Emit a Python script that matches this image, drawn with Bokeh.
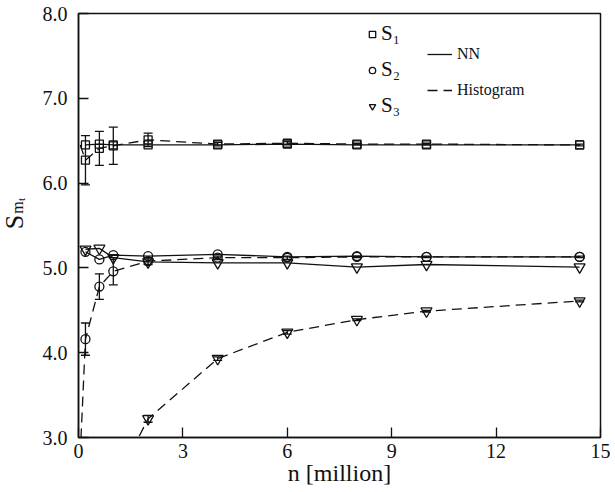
import math
from bokeh.plotting import figure
from bokeh.layouts import row
from bokeh.models import (Range1d, FixedTicker, PrintfTickFormatter, ColumnDataSource,
                          Whisker, TeeHead, Legend, LegendItem, Label)
from bokeh.embed import file_html
from bokeh.resources import INLINE

# ---------------- data ----------------
n = [0.2, 0.6, 1.0, 2.0, 4.0, 6.0, 8.0, 10.0, 14.4]

s1_nn = [6.45, 6.46, 6.45, 6.45, 6.45, 6.46, 6.45, 6.45, 6.45]
s1_hist = [6.27, 6.41, 6.44, 6.51, 6.46, 6.47, 6.46, 6.46, 6.45]
s1_err = [0.29, 0.20, 0.22, 0.08, 0.02, 0.02, 0.01, 0.01, 0.01]

s2_nn = [5.19, 5.10, 5.15, 5.14, 5.16, 5.13, 5.14, 5.13, 5.13]
s2_hist = [4.16, 4.78, 4.96, 5.08, 5.12, 5.12, 5.13, 5.13, 5.13]
s2_err = [0.19, 0.15, 0.16, 0.04, 0.02, 0.02, 0.01, 0.01, 0.01]

s3_nn = [5.22, 5.23, 5.12, 5.07, 5.06, 5.06, 5.01, 5.04, 5.01]
s3_hist = [1.20, 2.00, 2.42, 3.22, 3.93, 4.24, 4.39, 4.49, 4.61]
s3_err = [0.30, 0.20, 0.15, 0.04, 0.02, 0.02, 0.01, 0.01, 0.01]

# histogram curves start from a smaller sample size (below the first marker)
hist_lead_n = 0.05
s1_hist_lead = 6.45
s2_hist_lead = 2.80
s3_hist_lead = 0.50

x_ticks = [0, 3, 6, 9, 12, 15]
y_ticks = [3.0, 4.0, 5.0, 6.0, 7.0, 8.0]
series_labels = ["S\u2081", "S\u2082", "S\u2083"]
style_labels = ["NN", "Histogram"]
x_label = "n [million]"
y_label_parts = ["S", "m", "t"]

FONT = "Liberation Serif"
BLACK = "#111111"
H = 490
LW = 34  # width of the strip holding the y-axis title
TOP, FH = 13, 424

p = figure(frame_width=522, frame_height=FH, output_backend="svg", toolbar_location=None,
           x_range=Range1d(0, 15), y_range=Range1d(3, 8),
           min_border_left=78 - LW, min_border_right=12, min_border_top=TOP,
           min_border_bottom=H - TOP - FH)
p.xgrid.visible = False
p.ygrid.visible = False
p.outline_line_color = BLACK
p.outline_line_width = 1.5
p.background_fill_color = "white"
p.border_fill_color = "white"

for ax in (p.xaxis[0], p.yaxis[0]):
    ax.axis_line_color = BLACK
    ax.axis_line_width = 1.5
    ax.major_tick_line_color = BLACK
    ax.major_tick_line_width = 1.3
    ax.major_tick_in = 10
    ax.major_tick_out = 0
    ax.minor_tick_line_color = None
    ax.major_label_text_font = FONT
    ax.major_label_text_font_size = "20px"
    ax.major_label_text_color = BLACK

p.xaxis.ticker = FixedTicker(ticks=x_ticks)
p.yaxis.ticker = FixedTicker(ticks=y_ticks)
p.yaxis.formatter = PrintfTickFormatter(format="%.1f")
p.xaxis.major_label_standoff = 6
p.yaxis.major_label_standoff = 11
p.xaxis.axis_label = x_label
p.xaxis.axis_label_text_font = FONT
p.xaxis.axis_label_text_font_size = "24px"
p.xaxis.axis_label_text_font_style = "normal"
p.xaxis.axis_label_text_color = BLACK
p.xaxis.axis_label_standoff = -1

markers = ["square", "circle", "inverted_triangle"]
sizes = [8, 9, 11]
nn_sets = [s1_nn, s2_nn, s3_nn]
hist_sets = [s1_hist, s2_hist, s3_hist]
err_sets = [s1_err, s2_err, s3_err]
leads = [s1_hist_lead, s2_hist_lead, s3_hist_lead]

legend_marker_renderers = []
nn_line = None
hist_line = None
for i in range(3):
    r_nn = p.line(n, nn_sets[i], line_color=BLACK, line_width=1.3)
    r_h = p.line([hist_lead_n] + n, [leads[i]] + hist_sets[i], line_color=BLACK,
                 line_width=1.3, line_dash="10 6")
    if i == 0:
        nn_line, hist_line = r_nn, r_h
    ymin, ymax = p.y_range.start, p.y_range.end
    keep = [k for k in range(len(n)) if ymin <= hist_sets[i][k] <= ymax]
    src = ColumnDataSource(dict(
        x=[n[k] for k in keep],
        lo=[hist_sets[i][k] - err_sets[i][k] for k in keep],
        hi=[hist_sets[i][k] + err_sets[i][k] for k in keep]))
    w = Whisker(source=src, base="x", lower="lo", upper="hi", dimension="height",
                line_color=BLACK, line_width=1.3,
                upper_head=TeeHead(size=9, line_color=BLACK, line_width=1.3),
                lower_head=TeeHead(size=9, line_color=BLACK, line_width=1.3))
    p.add_layout(w)
    r_m = p.scatter(n, nn_sets[i], marker=markers[i], size=sizes[i], fill_alpha=0,
                    line_color=BLACK, line_width=1.3)
    p.scatter(n, hist_sets[i], marker=markers[i], size=sizes[i], fill_alpha=0,
              line_color=BLACK, line_width=1.3)
    legend_marker_renderers.append(r_m)

leg1 = Legend(items=[LegendItem(label=series_labels[i], renderers=[legend_marker_renderers[i]])
                     for i in range(3)],
              location=(286, 319), orientation="vertical",
              label_text_font=FONT, label_text_font_size="21px", label_text_color=BLACK,
              glyph_width=16, glyph_height=24, label_height=24, spacing=11,
              label_standoff=1, padding=0, margin=0,
              border_line_alpha=0, background_fill_alpha=0)
leg2 = Legend(items=[LegendItem(label=style_labels[0], renderers=[nn_line]),
                     LegendItem(label=style_labels[1], renderers=[hist_line])],
              location=(349, 336), orientation="vertical",
              label_text_font=FONT, label_text_font_size="16px", label_text_color=BLACK,
              glyph_width=25, glyph_height=22, label_height=22, spacing=14,
              label_standoff=5, padding=0, margin=0,
              border_line_alpha=0, background_fill_alpha=0)
p.add_layout(leg1)
p.add_layout(leg2)

# ---- narrow strip on the left carrying the rotated y-axis title S_{m_t} ----
lab = figure(width=LW, height=H, output_backend="svg", toolbar_location=None,
             x_axis_location=None, y_axis_location=None,
             x_range=Range1d(0, 1), y_range=Range1d(0, 1),
             min_border=0, min_border_left=0, min_border_right=0,
             min_border_top=TOP, min_border_bottom=H - TOP - FH)
lab.outline_line_color = None
lab.xgrid.visible = False
lab.ygrid.visible = False
lab.background_fill_color = "white"
lab.border_fill_color = "white"
# centres of each piece (page pixels): S, subscript m, sub-subscript t
piece_x = [14, 17, 20]
piece_y = [221.5, 207, 199]
piece_fs = ["26px", "16px", "11px"]
for txt, xs, ys, fs in zip(y_label_parts, piece_x, piece_y, piece_fs):
    lab.add_layout(Label(x=xs, y=TOP + FH - ys, x_units="screen", y_units="screen", text=txt,
                         angle=math.pi / 2, text_align="center", text_baseline="middle",
                         text_font=FONT, text_font_size=fs, text_color=BLACK))

layout = row(lab, p, spacing=0)
open("out.html", "w").write(file_html(layout, INLINE))
